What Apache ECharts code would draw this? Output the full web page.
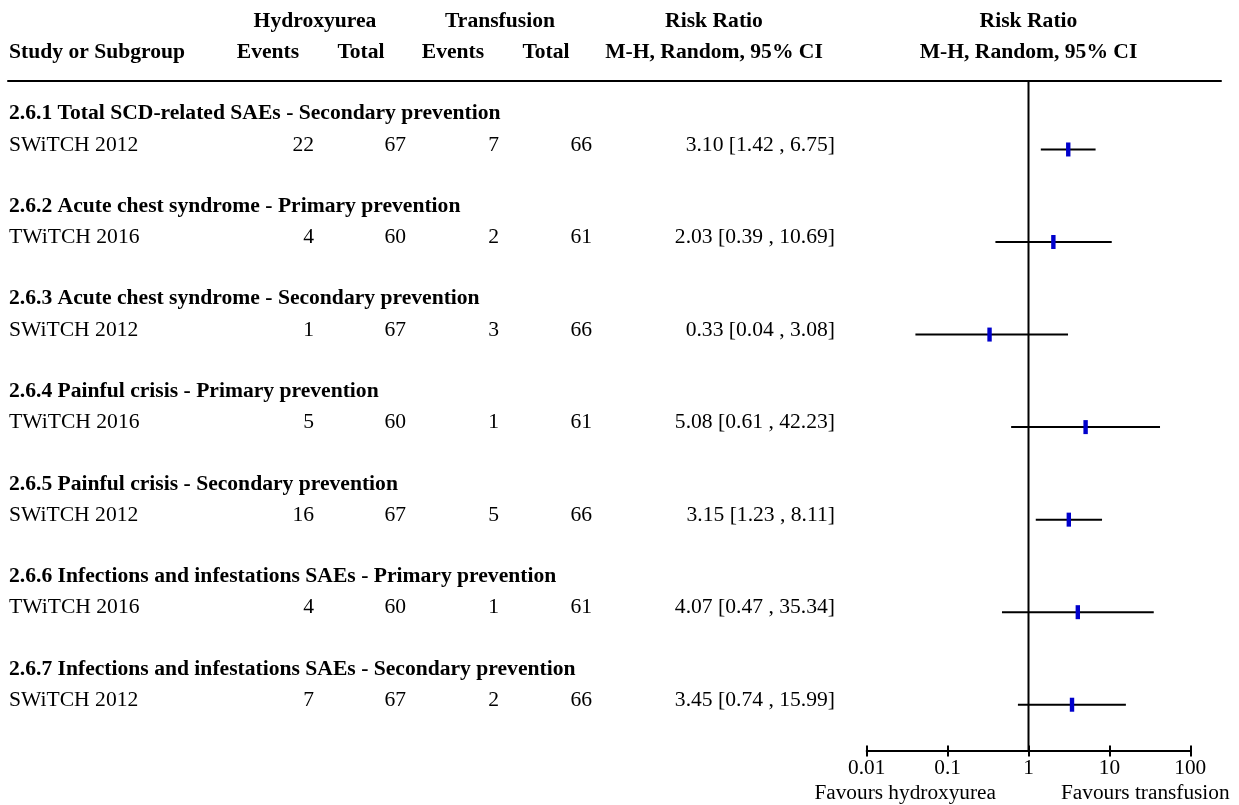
<!DOCTYPE html>
<html>
<head>
<meta charset="utf-8">
<script src="https://cdn.jsdelivr.net/npm/echarts@6/dist/echarts.min.js"></script>
<style>
html,body{margin:0;padding:0;background:#fff;}
#chart{width:1239px;height:805px;}
</style>
</head>
<body>
<div id="chart"></div>
<script>
// ---- data ----
const subgroups = [
  '2.6.1 Total SCD-related SAEs - Secondary prevention',
  '2.6.2 Acute chest syndrome - Primary prevention',
  '2.6.3 Acute chest syndrome - Secondary prevention',
  '2.6.4 Painful crisis - Primary prevention',
  '2.6.5 Painful crisis - Secondary prevention',
  '2.6.6 Infections and infestations SAEs - Primary prevention',
  '2.6.7 Infections and infestations SAEs - Secondary prevention'
];
const studies = ['SWiTCH 2012','TWiTCH 2016','SWiTCH 2012','TWiTCH 2016','SWiTCH 2012','TWiTCH 2016','SWiTCH 2012'];
const hydEvents = [22, 4, 1, 5, 16, 4, 7];
const hydTotal  = [67, 60, 67, 60, 67, 60, 67];
const trEvents  = [7, 2, 3, 1, 5, 1, 2];
const trTotal   = [66, 61, 66, 61, 66, 61, 66];
const rr     = [3.10, 2.03, 0.33, 5.08, 3.15, 4.07, 3.45];
const ciLow  = [1.42, 0.39, 0.04, 0.61, 1.23, 0.47, 0.74];
const ciHigh = [6.75, 10.69, 3.08, 42.23, 8.11, 35.34, 15.99];
const tickLabels = ['0.01', '0.1', '1', '10', '100'];
const refValue = 1;

// ---- layout (styles / positions only) ----
const FONT = '"Liberation Serif", "Times New Roman", serif';
const FS = 21.6;
const FS_AX = 21.3;
const col = {study: 9, hydE: 314, hydT: 406, trE: 499, trT: 592, ci: 835};
const hdr = {hyd: 315, tr: 500, rr1: 714, rr2: 1028.5, hydE: 268, hydT: 361, trE: 453, trT: 546};
const yHdr1 = -1.381, yHdr2 = -1.046, dHead = -0.385, dStudy = -0.047, yFav = 6.954;

const texts = [];
function T(x, y, text, align, bold, size) { texts.push({x, y, text, align, bold, size: size || FS}); }
T(hdr.hyd, yHdr1, 'Hydroxyurea', 'center', true);
T(hdr.tr, yHdr1, 'Transfusion', 'center', true);
T(hdr.rr1, yHdr1, 'Risk Ratio', 'center', true);
T(hdr.rr2, yHdr1, 'Risk Ratio', 'center', true);
T(col.study, yHdr2, 'Study or Subgroup', 'left', true);
T(hdr.hydE, yHdr2, 'Events', 'center', true);
T(hdr.hydT, yHdr2, 'Total', 'center', true);
T(hdr.trE, yHdr2, 'Events', 'center', true);
T(hdr.trT, yHdr2, 'Total', 'center', true);
T(hdr.rr1, yHdr2, 'M-H, Random, 95% CI', 'center', true);
T(hdr.rr2, yHdr2, 'M-H, Random, 95% CI', 'center', true);
subgroups.forEach((s, i) => {
  T(col.study, i + dHead, s, 'left', true);
  T(col.study, i + dStudy, studies[i], 'left', false);
  T(col.hydE, i + dStudy, String(hydEvents[i]), 'right', false);
  T(col.hydT, i + dStudy, String(hydTotal[i]), 'right', false);
  T(col.trE, i + dStudy, String(trEvents[i]), 'right', false);
  T(col.trT, i + dStudy, String(trTotal[i]), 'right', false);
  T(col.ci, i + dStudy, rr[i].toFixed(2) + ' [' + ciLow[i].toFixed(2) + ' , ' + ciHigh[i].toFixed(2) + ']', 'right', false);
});
T(996, yFav, 'Favours hydroxyurea', 'right', false, FS_AX);
T(1061, yFav, 'Favours transfusion', 'left', false, FS_AX);

const chart = echarts.init(document.getElementById('chart'));
const logAxisCommon = {
  type: 'log', logBase: 10, min: 0.01, max: 100, gridIndex: 0,
  position: 'bottom',
  splitLine: {show: false}, minorTick: {show: false}
};
chart.setOption({
  animation: false,
  backgroundColor: '#fff',
  grid: [
    {left: 866.7, right: 48.7, top: 81, bottom: 54},
    {left: 0, right: 0, top: 0, bottom: 0},
    {left: 8, right: 18, top: 81, height: 1}
  ],
  xAxis: [
    Object.assign({}, logAxisCommon, {
      offset: 0,
      axisLine: {show: true, onZero: false, lineStyle: {color: '#000', width: 2}},
      axisTick: {show: false},
      axisLabel: {
        show: true, color: '#000', fontFamily: FONT, fontSize: FS_AX, margin: 7,
        formatter: v => tickLabels[Math.round(Math.log10(v)) + 2]
      }
    }),
    Object.assign({}, logAxisCommon, {
      offset: 5.5,
      axisLine: {show: false, onZero: false},
      axisTick: {show: true, inside: true, length: 11, lineStyle: {color: '#000', width: 2}},
      axisLabel: {show: false}
    }),
    {type: 'value', gridIndex: 1, min: 0, max: 1239, show: false},
    {type: 'value', gridIndex: 2, min: 0, max: 1, position: 'top',
      axisLine: {show: true, onZero: false, lineStyle: {color: '#000', width: 2}},
      axisTick: {show: false}, axisLabel: {show: false}, splitLine: {show: false}}
  ],
  yAxis: [
    {type: 'value', gridIndex: 0, min: -0.74, max: 6.5, inverse: true, show: false},
    {type: 'value', gridIndex: 1, min: -1.615, max: -1.615 + 805 / 92.54, inverse: true, show: false},
    {type: 'value', gridIndex: 2, min: 0, max: 1, show: false}
  ],
  series: [
    {
      type: 'line', xAxisIndex: 0, yAxisIndex: 0, symbol: 'none', silent: true,
      data: [[refValue, -0.74], [refValue, 6.5]],
      lineStyle: {color: '#000', width: 2}
    },
    {
      type: 'custom', xAxisIndex: 0, yAxisIndex: 0, silent: true,
      data: rr.map((v, i) => [v, i, ciLow[i], ciHigh[i]]),
      renderItem: function (params, api) {
        const p = api.coord([api.value(0), api.value(1)]);
        const lo = api.coord([api.value(2), api.value(1)]);
        const hi = api.coord([api.value(3), api.value(1)]);
        return {
          type: 'group',
          children: [
            {type: 'line', shape: {x1: lo[0], y1: p[1], x2: hi[0], y2: p[1]},
              style: {stroke: '#000', lineWidth: 2}},
            {type: 'rect', shape: {x: p[0] - 2.2, y: p[1] - 7, width: 4.4, height: 14},
              style: {fill: '#0000CC'}}
          ]
        };
      }
    },
    {
      type: 'custom', xAxisIndex: 2, yAxisIndex: 1, silent: true,
      data: texts.map(t => [t.x, t.y]),
      renderItem: function (params, api) {
        const t = texts[params.dataIndex];
        const p = api.coord([api.value(0), api.value(1)]);
        return {
          type: 'text',
          style: {
            text: t.text, x: p[0], y: p[1],
            align: t.align, verticalAlign: 'middle',
            font: (t.bold ? 'bold ' : '') + t.size + 'px ' + FONT,
            fill: '#000'
          }
        };
      }
    }
  ]
});
</script>
</body>
</html>
